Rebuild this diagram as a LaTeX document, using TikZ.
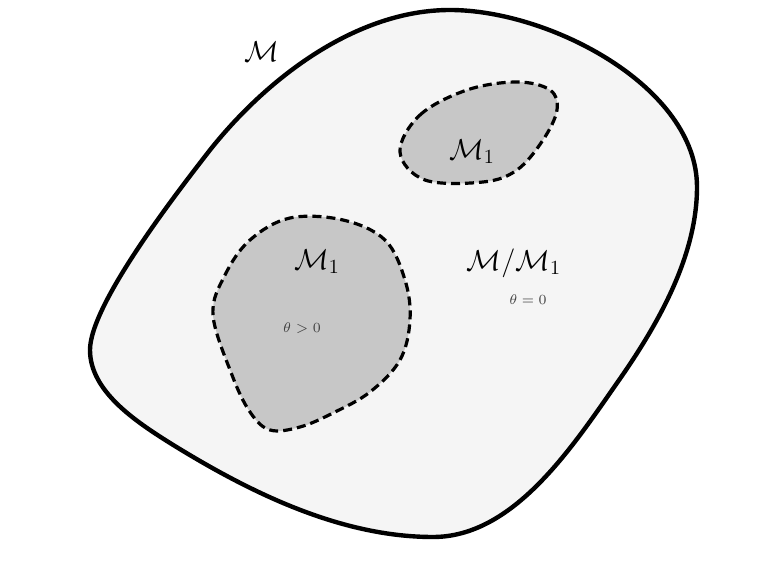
\documentclass[tikz,border=0pt]{standalone}
\usepackage{amsmath}
\begin{document}
\begin{tikzpicture}[x=0.5pt,y=-0.5pt,
  outerreg/.style={line width=2.2pt, fill=black!4},
  innerreg/.style={line width=1.6pt, dash pattern=on 4.5pt off 2.5pt, fill=black!22},
  lbl/.style={font=\Large, inner sep=0pt},
  small/.style={font=\scriptsize, inner sep=0pt, text=black!75}]
\useasboundingbox (0,0) rectangle (772,561);
\draw[outerreg] (450,10) .. controls (550,10) and (697,87) .. (697,187)
  .. controls (697,257) and (657,326) .. (617,383)
  .. controls (571,449) and (513,537) .. (433,537)
  .. controls (340,537) and (249,492) .. (170,443)
  .. controls (135,421) and (90,391) .. (90,350)
  .. controls (90,305) and (175,195) .. (210,150)
  .. controls (268,77) and (357,10) .. (450,10) -- cycle;
\draw[innerreg] plot[smooth cycle, tension=0.6] coordinates {
  (400,152) (420,115) (467,90) (517,82) (550,90) (557,110) (543,140)
  (517,170) (483,182) (425,180)};
\draw[innerreg] plot[smooth cycle, tension=0.6] coordinates {
  (213,315) (225,275) (250,240) (290,218) (343,220) (385,240) (405,280)
  (410,320) (400,360) (370,392) (333,413) (300,427) (270,430) (250,412)
  (232,375)};
\node[lbl] (m) at (262,52) {$\mathcal{M}$};
\node[lbl] (m1a) at (472,152) {$\mathcal{M}_1$};
\node[lbl] (m1b) at (317,262) {$\mathcal{M}_1$};
\node[small] (tgt) at (302,328) {$\theta>0$};
\node[lbl] (mm) at (514,263) {$\mathcal{M}/\mathcal{M}_1$};
\node[small] (teq) at (528,300) {$\theta=0$};
\end{tikzpicture}
\end{document}
